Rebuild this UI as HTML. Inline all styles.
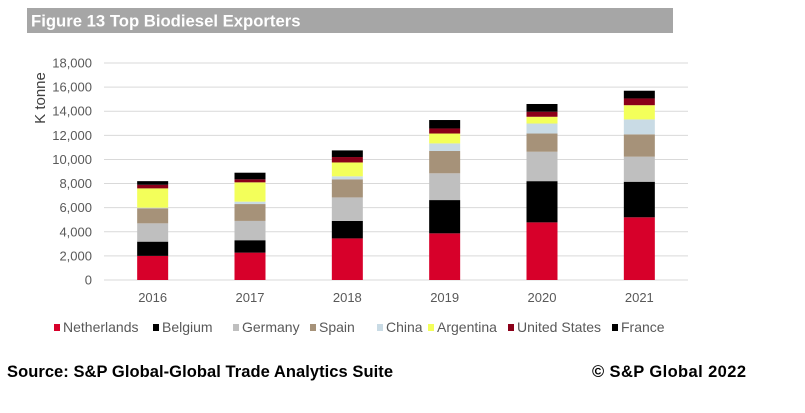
<!DOCTYPE html>
<html><head><meta charset="utf-8">
<style>
body{margin:0;background:#fff;width:805px;height:413px;overflow:hidden;font-family:"Liberation Sans",Arial,sans-serif;}
svg{display:block}
</style></head>
<body>
<svg id="chart" width="805" height="413" xmlns="http://www.w3.org/2000/svg">
  <rect x="27" y="8" width="646" height="25" fill="#a6a6a6"/>
  <text x="31" y="26.5" font-size="16.7" font-weight="bold" fill="#fff">Figure 13 Top Biodiesel Exporters</text>
  <text transform="translate(45,98) rotate(-90)" text-anchor="middle" font-size="15" fill="#404040">K tonne</text>
  <g id="grid"></g>
  <g id="bars"></g>
  <g id="xlabels"></g>
  <g id="legend"></g>
  <text x="7" y="377" font-size="16.5" font-weight="bold" fill="#000" textLength="386">Source: S&amp;P Global-Global Trade Analytics Suite</text>
  <text x="592" y="377" font-size="16.5" font-weight="bold" fill="#000" textLength="154">©  S&amp;P Global 2022</text>
</svg>
<script>
const categories = ["2016","2017","2018","2019","2020","2021"];
const seriesNames = ["Netherlands","Belgium","Germany","Spain","China","Argentina","United States","France"];
const netherlands = [2000,2270,3450,3870,4780,5200];
const belgium = [1180,1030,1450,2760,3420,2950];
const germany = [1520,1600,1950,2220,2440,2080];
const spain = [1250,1400,1500,1850,1510,1850];
const china = [50,200,250,630,830,1240];
const argentina = [1600,1600,1150,820,560,1180];
const unitedStates = [300,250,450,420,420,560];
const france = [300,550,550,700,640,640];
const yTicks = [0,2000,4000,6000,8000,10000,12000,14000,16000,18000];

const series = [netherlands,belgium,germany,spain,china,argentina,unitedStates,france];
const colors = ["#d7002a","#000000","#bfbfbf","#a69279","#c9dbe5","#f3ff5a","#8b0019","#000000"];
const NS="http://www.w3.org/2000/svg";
const plotL=104, plotR=688, y0=280, yTop=63, yMax=18000;
const yScale=v=>y0-(v/yMax)*(y0-yTop);
const band=(plotR-plotL)/categories.length;
const xCenter=i=>plotL+band*(i+0.5);
const barW=31;
function mk(tag,attrs){const e=document.createElementNS(NS,tag);for(const k in attrs)e.setAttribute(k,attrs[k]);return e;}
const grid=document.getElementById('grid');
yTicks.forEach(t=>{
  const y=yScale(t);
  const l=mk('line',{x1:plotL,x2:plotR,y1:y,y2:y,stroke:'#d9d9d9','stroke-width':1});
  
  
  grid.appendChild(l);
  const tx=mk('text',{x:92,y:y+4.5,'text-anchor':'end','font-size':13,fill:'#595959'});
  tx.textContent=t.toLocaleString('en-US');
  
  
  grid.appendChild(tx);
});
const bars=document.getElementById('bars');
categories.forEach((c,i)=>{
  let cum=0;
  series.forEach((s,k)=>{
    const v=s[i];
    const yT=yScale(cum+v), yB=yScale(cum);
    const r=mk('rect',{x:xCenter(i)-barW/2,y:yT,width:barW,height:Math.max(0,yB-yT),fill:colors[k]});
    
    
    bars.appendChild(r);
    cum+=v;
  });
  const t=mk('text',{x:xCenter(i),y:302,'text-anchor':'middle','font-size':13,fill:'#595959'});
  t.textContent=c;
  
  
  document.getElementById('xlabels').appendChild(t);
});
const legendX=[54,153,233,310,377,428,508,612];
const leg=document.getElementById('legend');
seriesNames.forEach((n,k)=>{
  const g=mk('g',{});
  
  
  g.appendChild(mk('rect',{x:legendX[k],y:324,width:6,height:7,fill:colors[k]}));
  const t=mk('text',{x:legendX[k]+9,y:332,'font-size':14,fill:'#595959'});
  t.textContent=n;
  g.appendChild(t);
  leg.appendChild(g);
});
</script>
</body></html>
